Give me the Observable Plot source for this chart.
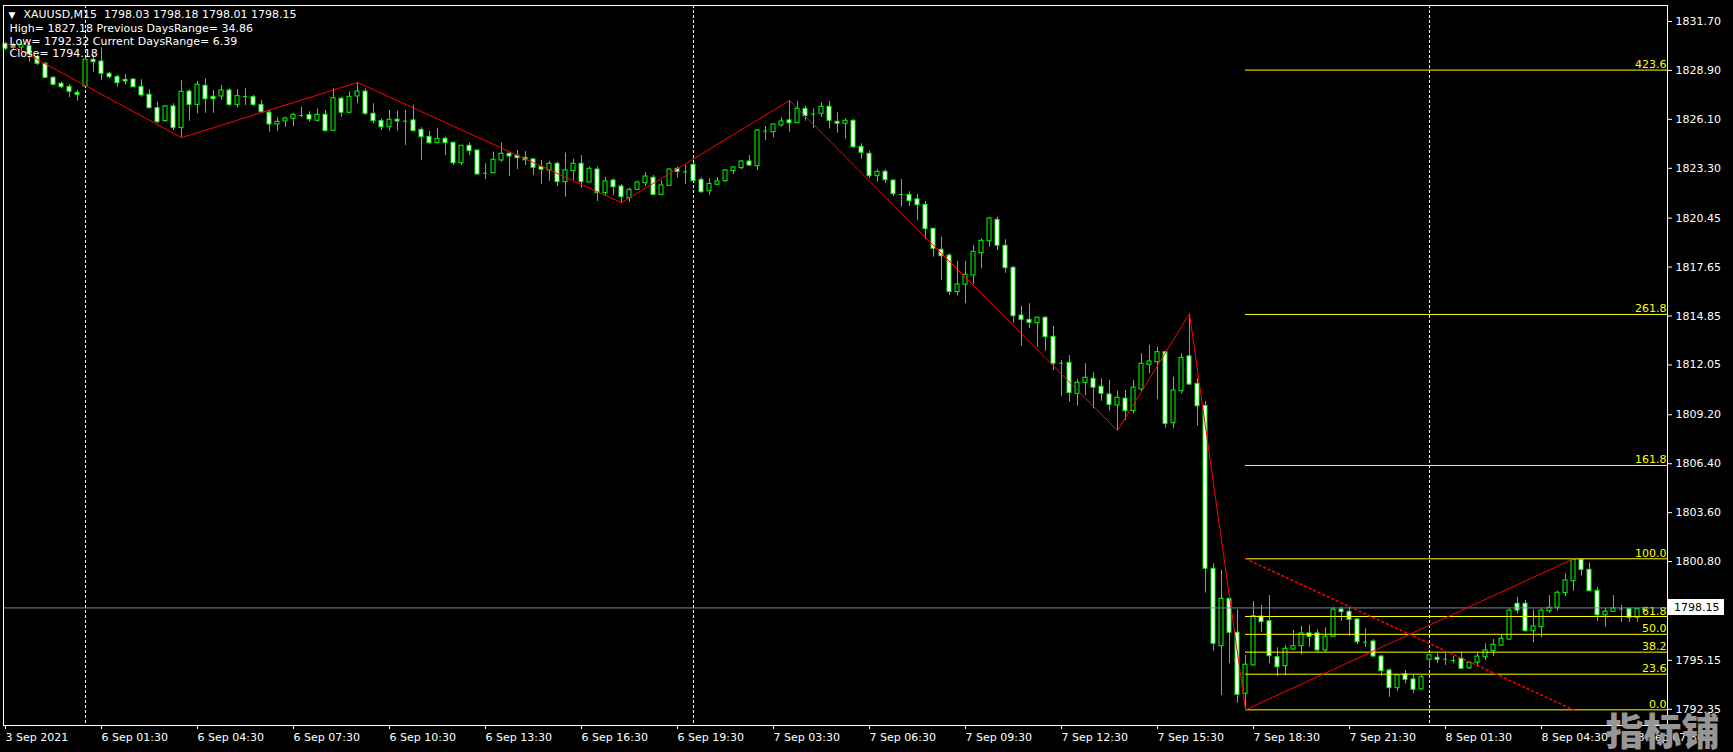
<!DOCTYPE html>
<html><head><meta charset="utf-8">
<script src="https://cdn.jsdelivr.net/npm/d3@7"></script>
<script src="https://cdn.jsdelivr.net/npm/@observablehq/plot@0.6"></script>
<style>
html,body{margin:0;padding:0;background:#000;overflow:hidden}
#chart svg{display:block}
</style></head><body><div id="chart"></div>
<script>
// ---- data (XAUUSD M15) ----
const opens = [
1830.42,1830.33,1830.20,1830.29,1829.66,1829.28,1828.48,1828.14,1827.96,1827.62,
1827.98,1829.51,1829.41,1828.71,1828.53,1828.36,1828.38,1827.96,1827.51,1826.74,
1826.00,1826.84,1825.60,1827.69,1826.93,1828.02,1827.39,1827.41,1827.75,1826.93,
1827.41,1827.37,1826.93,1826.48,1825.81,1825.98,1826.13,1826.32,1826.34,1826.02,
1826.36,1825.45,1827.28,1826.48,1827.41,1827.69,1826.42,1826.00,1825.65,1826.08,
1826.00,1826.04,1825.50,1825.10,1824.74,1824.99,1824.76,1823.59,1824.59,1824.32,
1823.02,1823.02,1823.75,1824.13,1824.02,1823.90,1823.81,1823.37,1823.18,1823.56,
1822.51,1823.14,1823.56,1822.49,1823.23,1821.88,1822.60,1822.26,1821.59,1822.07,
1822.45,1822.76,1821.78,1822.30,1823.27,1823.10,1823.50,1822.64,1821.99,1822.36,
1822.56,1823.14,1823.31,1823.69,1823.42,1825.43,1825.37,1825.75,1826.04,1825.88,
1826.70,1826.40,1826.42,1826.82,1825.96,1825.85,1826.02,1824.53,1824.13,1822.85,
1823.10,1822.60,1821.80,1821.78,1821.52,1821.21,1819.84,1818.64,1818.31,1816.22,
1816.64,1817.17,1818.44,1819.13,1820.35,1818.87,1817.61,1814.88,1814.63,1814.44,
1814.75,1813.66,1812.15,1812.17,1810.40,1811.03,1811.26,1810.80,1810.36,1809.73,
1810.12,1809.41,1810.65,1812.06,1812.21,1812.78,1808.72,1810.55,1812.54,1810.97,
1809.71,1800.39,1795.96,1798.67,1796.73,1793.24,1794.86,1797.66,1797.39,1795.33,
1794.82,1795.77,1795.96,1796.69,1796.69,1795.72,1796.50,1798.06,1797.93,1797.49,
1796.19,1796.23,1795.37,1794.57,1793.56,1794.35,1794.06,1793.49,1795.19,1795.30,
1795.22,1795.14,1795.24,1794.70,1795.01,1795.33,1795.68,1796.00,1796.34,1798.39,
1798.39,1796.82,1797.05,1797.96,1798.16,1799.00,1799.68,1800.90,1800.33,1799.13,
1797.73,1797.93,1798.08,1798.08,1797.59,1798.03];
const highs = [
1830.51,1830.46,1830.50,1830.42,1829.75,1829.37,1828.55,1828.23,1828.08,1827.75,
1829.55,1829.75,1830.19,1828.80,1828.63,1828.67,1828.42,1828.36,1827.79,1827.08,
1826.89,1826.99,1828.32,1827.79,1828.27,1828.42,1827.75,1828.04,1827.85,1827.79,
1827.85,1827.47,1827.18,1826.61,1826.19,1826.22,1826.42,1826.80,1826.53,1826.70,
1826.61,1827.85,1827.37,1827.66,1828.21,1827.85,1826.99,1826.13,1826.61,1826.57,
1826.61,1826.89,1825.62,1825.41,1825.56,1825.08,1824.79,1824.61,1824.76,1824.32,
1823.56,1824.22,1824.76,1824.22,1824.32,1824.26,1823.85,1823.75,1823.69,1823.65,
1824.17,1823.82,1824.03,1823.37,1823.37,1822.79,1822.70,1822.37,1822.16,1822.56,
1823.06,1822.89,1822.60,1823.27,1823.37,1823.46,1823.56,1822.76,1822.70,1822.76,
1823.23,1823.40,1823.75,1824.03,1825.52,1825.69,1825.85,1826.19,1827.18,1827.12,
1826.84,1826.70,1827.05,1827.12,1826.48,1826.13,1826.08,1824.70,1824.28,1823.22,
1823.22,1822.64,1822.66,1821.96,1821.80,1821.40,1819.84,1819.36,1818.41,1817.97,
1817.97,1818.88,1819.27,1820.50,1820.50,1819.21,1817.68,1815.40,1815.55,1814.78,
1814.82,1814.25,1812.31,1812.59,1811.20,1812.12,1811.61,1811.26,1811.16,1810.55,
1810.59,1811.16,1812.69,1813.17,1813.07,1812.84,1811.35,1812.69,1814.98,1811.26,
1809.96,1800.68,1800.29,1798.67,1798.05,1795.43,1798.52,1798.29,1798.86,1795.87,
1796.00,1796.86,1797.09,1797.14,1796.90,1797.01,1798.19,1798.19,1798.19,1797.53,
1796.96,1796.33,1795.43,1794.67,1794.29,1794.57,1794.29,1794.29,1795.49,1795.53,
1795.53,1795.37,1795.62,1795.05,1795.56,1796.10,1796.35,1796.63,1798.10,1798.76,
1798.58,1798.04,1798.10,1798.86,1799.11,1800.10,1800.96,1800.93,1800.73,1799.30,
1798.10,1798.86,1798.29,1798.16,1798.16,1798.18];
const lows = [
1830.04,1830.04,1830.00,1829.37,1829.18,1828.42,1828.02,1827.85,1827.35,1827.14,
1827.94,1828.80,1828.32,1828.42,1827.94,1828.08,1827.91,1827.37,1826.70,1825.85,
1825.94,1825.46,1825.05,1826.00,1826.42,1826.45,1826.45,1827.18,1826.85,1826.76,
1826.89,1826.84,1826.42,1825.37,1825.41,1825.65,1825.69,1826.19,1825.94,1825.94,
1825.37,1825.43,1826.22,1826.42,1826.99,1826.32,1825.85,1825.46,1825.43,1825.43,
1824.61,1825.37,1823.75,1824.66,1824.70,1824.03,1823.46,1823.46,1824.03,1822.89,
1822.66,1822.99,1823.65,1822.83,1823.23,1823.46,1822.89,1822.37,1822.55,1822.26,
1821.65,1822.60,1822.16,1822.45,1821.40,1821.75,1821.75,1821.33,1821.36,1822.03,
1822.26,1821.75,1821.75,1822.26,1822.74,1822.37,1822.51,1821.88,1821.75,1822.32,
1822.51,1822.95,1823.22,1823.40,1823.18,1824.89,1825.05,1825.65,1825.37,1825.85,
1826.00,1825.56,1826.22,1825.56,1825.31,1824.97,1824.42,1823.82,1822.70,1822.51,
1822.45,1821.69,1821.08,1821.12,1820.31,1819.21,1818.22,1816.88,1816.03,1815.99,
1815.55,1816.65,1817.55,1818.79,1818.60,1817.30,1814.44,1813.12,1814.12,1813.07,
1812.84,1811.73,1810.25,1809.92,1809.69,1810.30,1809.54,1809.98,1809.41,1808.30,
1808.87,1809.26,1810.49,1811.54,1810.07,1808.43,1808.40,1810.40,1810.88,1808.55,
1799.00,1795.68,1793.14,1794.96,1792.70,1792.32,1794.82,1796.76,1794.96,1794.23,
1794.29,1795.72,1795.47,1795.90,1795.59,1795.62,1796.48,1797.39,1796.53,1796.06,
1795.90,1795.33,1794.25,1793.04,1793.37,1793.81,1793.27,1793.43,1794.70,1794.96,
1794.86,1794.96,1794.63,1794.63,1794.76,1795.14,1795.37,1795.94,1796.29,1797.81,
1796.76,1796.16,1796.44,1797.85,1797.96,1798.80,1799.11,1799.97,1799.05,1797.37,
1797.05,1797.93,1797.33,1797.33,1797.33,1798.01];
const closes = [
1830.14,1830.19,1830.35,1829.81,1829.28,1828.48,1828.08,1827.94,1827.68,1827.51,
1829.51,1829.37,1828.71,1828.51,1828.17,1828.27,1827.94,1827.47,1826.74,1825.94,
1826.84,1825.60,1827.68,1826.93,1828.08,1827.25,1827.25,1827.75,1826.93,1827.43,
1827.41,1826.93,1826.51,1825.81,1825.96,1826.15,1826.36,1826.32,1826.09,1826.36,
1825.43,1827.31,1826.48,1827.39,1827.69,1826.42,1826.00,1825.65,1826.08,1825.98,
1826.00,1825.43,1825.08,1824.74,1824.99,1824.74,1823.59,1824.59,1824.28,1822.95,
1823.02,1823.79,1824.13,1823.98,1823.88,1823.76,1823.33,1823.22,1823.56,1822.51,
1823.18,1823.56,1822.51,1823.27,1821.88,1822.55,1822.22,1821.65,1822.07,1822.49,
1822.83,1821.78,1822.32,1823.23,1823.10,1823.10,1822.56,1821.93,1822.41,1822.55,
1823.18,1823.35,1823.69,1823.46,1825.46,1825.43,1825.81,1825.98,1825.88,1826.70,
1826.28,1826.40,1826.82,1826.02,1825.85,1826.02,1824.51,1824.19,1822.85,1823.10,
1822.62,1821.82,1821.80,1821.42,1821.19,1819.82,1818.70,1818.27,1816.22,1816.65,
1817.21,1818.52,1819.15,1820.43,1818.87,1817.59,1814.84,1814.63,1814.46,1814.75,
1813.64,1812.12,1812.15,1810.44,1811.03,1811.32,1810.75,1810.40,1809.77,1810.17,
1809.41,1810.75,1812.12,1812.25,1812.78,1808.68,1810.59,1812.46,1810.93,1809.69,
1800.39,1796.10,1798.67,1796.73,1793.18,1794.90,1797.68,1797.34,1795.39,1794.76,
1795.81,1795.96,1796.69,1796.50,1795.72,1796.50,1798.05,1797.91,1797.47,1796.19,
1796.19,1795.37,1794.53,1793.56,1794.29,1794.04,1793.47,1794.18,1795.44,1795.18,
1795.22,1795.14,1794.67,1795.01,1795.37,1795.72,1796.04,1796.39,1798.00,1798.00,
1796.82,1797.09,1798.00,1798.16,1799.02,1799.72,1800.90,1800.33,1799.11,1797.73,
1797.94,1798.12,1798.08,1797.59,1798.08,1798.15];

const xTickIdx = [0,12,24,36,48,60,72,84,96,108,120,132,144,156,168,180,192,204];
const xTickLabels = ["3 Sep 2021","6 Sep 01:30","6 Sep 04:30","6 Sep 07:30","6 Sep 10:30","6 Sep 13:30",
  "6 Sep 16:30","6 Sep 19:30","7 Sep 03:30","7 Sep 06:30","7 Sep 09:30","7 Sep 12:30","7 Sep 15:30",
  "7 Sep 18:30","7 Sep 21:30","8 Sep 01:30","8 Sep 04:30","8 Sep 07:30"];
const yTicks = [1831.70,1828.90,1826.10,1823.30,1820.45,1817.65,1814.85,1812.05,1809.20,1806.40,1803.60,1800.80,1798.00,1795.15,1792.35];
const separatorIdx = [10, 86, 178];
const zigIdx = [0, 22, 44, 77, 98, 139, 148, 155, 196];
const zigPrice = [1830.51, 1825.05, 1828.21, 1821.33, 1827.18, 1808.30, 1814.98, 1792.32, 1800.96];
const fibLevels = [0, 23.6, 38.2, 50, 61.8, 100, 161.8, 261.8, 423.6];
const fibLow = 1792.32, fibHigh = 1800.96, fibStartIdx = 155, fibEndIdx = 196;
const currentPrice = 1798.15;
const titleLine = "XAUUSD,M15  1798.03 1798.18 1798.01 1798.15";
const infoLines = ["High= 1827.18 Previous DaysRange= 34.86", "Low= 1792.32 Current DaysRange= 6.39", "Close= 1794.18"];
const watermark = "指标铺";

// ---- scales / derived tables ----
const xDomain = [-0.25, 207.75];
const yDomain = [1791.424, 1832.614];
const bars = opens.map((o, i) => ({i, open: o, high: highs[i], low: lows[i], close: closes[i]}));
const bodies = bars.filter(d => Math.abs(d.open - d.close) >= 0.04);
const dojis = bars.filter(d => Math.abs(d.open - d.close) < 0.04);
const zigzag = zigIdx.map((i, k) => ({i, price: zigPrice[k]}));
const fibRows = fibLevels.map(l => ({level: l, price: fibLow + (fibHigh - fibLow) * l / 100, start: fibStartIdx, end: xDomain[1]}));
const fibDiag = [{i: fibStartIdx, price: fibHigh}, {i: fibEndIdx, price: fibLow}];
const tickLabel = new Map(xTickIdx.map((d, k) => [d, xTickLabels[k]]));

const GREEN = "#00ff00";
const FONT = "DejaVu Sans";

const chart = Plot.plot({
  width: 1733, height: 752,
  marginLeft: 3, marginRight: 66, marginTop: 5, marginBottom: 27,
  style: {background: "#000", color: "#fff", fontFamily: FONT, fontSize: "11px"},
  x: {type: "linear", domain: xDomain, axis: null, label: null},
  y: {type: "linear", domain: yDomain, axis: null, label: null},
  marks: [
    Plot.ruleX(separatorIdx, {x: d => d, stroke: "#fff", strokeDasharray: "3,2"}),
    Plot.ruleX(bars, {x: "i", y1: "low", y2: "high", stroke: GREEN}),
    Plot.rect(bodies, {x1: d => d.i - 0.25, x2: d => d.i + 0.25, y1: "open", y2: "close",
      fill: d => d.close < d.open ? "#fff" : "#000", stroke: GREEN}),
    Plot.ruleY(dojis, {y: "open", x1: d => d.i - 0.25, x2: d => d.i + 0.25, stroke: GREEN}),
    Plot.ruleY(fibRows, {y: "price", x1: "start", x2: "end", stroke: "#ffff00"}),
    Plot.text(fibRows, {y: "price", text: d => d.level.toFixed(1), frameAnchor: "right", textAnchor: "end",
      lineAnchor: "bottom", dx: -1, dy: -2, fill: "#ffff00", fontSize: 11}),
    Plot.ruleY([currentPrice], {y: d => d, stroke: "#778899"}),
    Plot.line(zigzag, {x: "i", y: "price", stroke: "#ff0000", strokeWidth: 1}),
    Plot.line(fibDiag, {x: "i", y: "price", stroke: "#ff0000", strokeDasharray: "2,3"}),
    Plot.frame({stroke: "#fff"}),
    Plot.axisY(yTicks, {anchor: "right", tickSize: 4, tickPadding: 4, tickFormat: d => d.toFixed(2),
      color: "#fff", fontSize: 11, label: null}),
    Plot.axisX(xTickIdx, {anchor: "bottom", tickSize: 4, tickPadding: 4, tickFormat: d => tickLabel.get(d),
      textAnchor: "start", color: "#fff", fontSize: 11, label: null}),
    Plot.text(["▼"], {text: d => d, frameAnchor: "top-left", textAnchor: "start", lineAnchor: "top",
      dx: 5, dy: 6, fill: "#fff", fontSize: 9}),
    Plot.text([titleLine], {text: d => d, frameAnchor: "top-left", textAnchor: "start", lineAnchor: "top",
      dx: 20, dy: 5, fill: "#fff", fontSize: 11}),
    Plot.text([infoLines.join("\n")], {text: d => d, frameAnchor: "top-left", textAnchor: "start", lineAnchor: "top",
      lineHeight: 1.12, dx: 6, dy: 18, fill: "#fff", fontSize: 11})
  ]
});

// current price box on the price axis
const svg = d3.select(chart);
const py = chart.scale("y").apply(currentPrice);
const axisX0 = 1733 - 66;
const box = svg.append("g");
box.append("rect").attr("x", axisX0).attr("y", Math.round(py) - 8).attr("width", 57).attr("height", 16).attr("fill", "#fff");
box.append("text").attr("x", axisX0 + 7).attr("y", py).attr("dy", "0.35em").attr("fill", "#000")
  .attr("text-anchor", "start").attr("font-family", FONT).attr("font-size", 11).text(currentPrice.toFixed(2));

// watermark on top
const wm = Plot.text([watermark], {text: d => d, frameAnchor: "bottom-right", textAnchor: "start", lineAnchor: "bottom",
  dx: -62, dy: 19, fill: "#969696", fontSize: 38, fontWeight: 900, fontFamily: "Noto Sans CJK SC"});
const wmSvg = Plot.plot({width: 1733, height: 752, marginLeft: 3, marginRight: 66, marginTop: 5, marginBottom: 27,
  style: {background: "transparent"}, x: {domain: xDomain, axis: null}, y: {domain: yDomain, axis: null}, marks: [wm]});
d3.select(wmSvg).selectAll(":scope > g").each(function() { chart.appendChild(this); });

document.getElementById("chart").appendChild(chart);
</script></body></html>
